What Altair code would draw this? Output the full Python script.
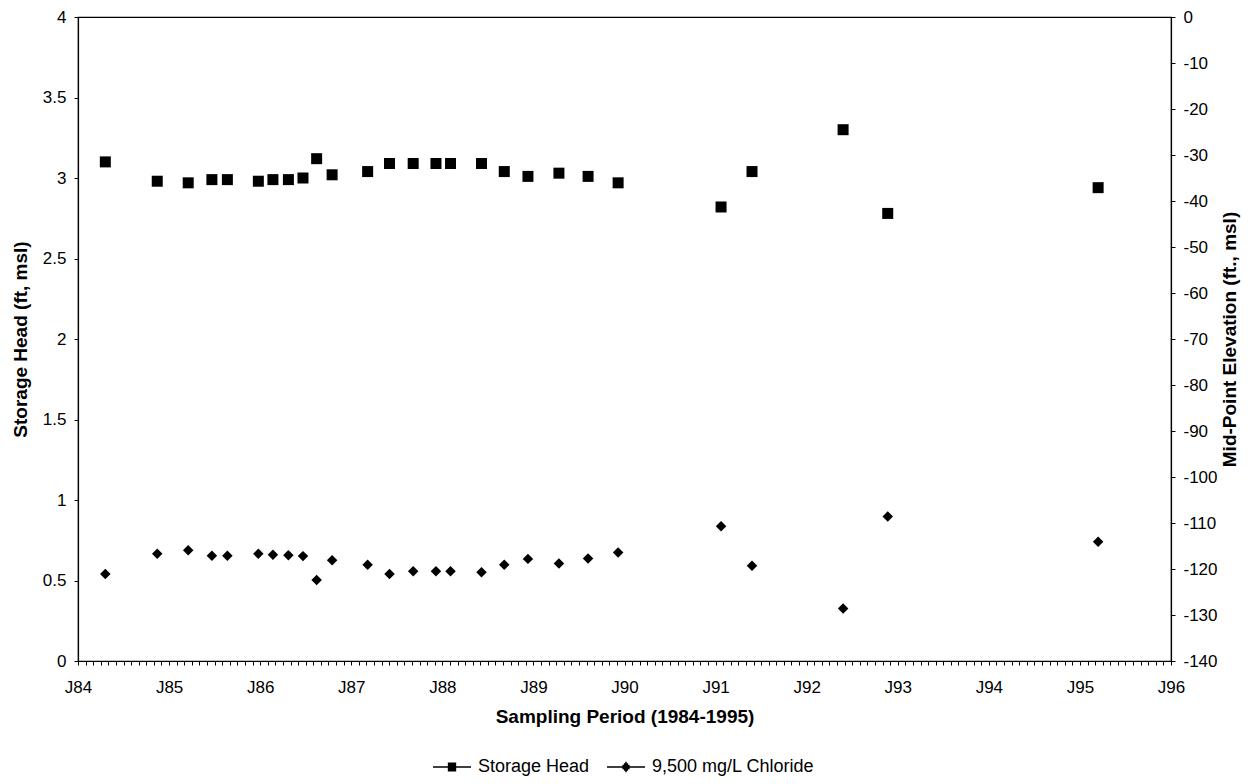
import altair as alt
import pandas as pd

# Sampling dates (decimal years)
years = [1984.30, 1984.87, 1985.21, 1985.47, 1985.64, 1985.98, 1986.14, 1986.31,
         1986.47, 1986.62, 1986.79, 1987.18, 1987.42, 1987.68, 1987.93, 1988.09,
         1988.43, 1988.68, 1988.94, 1989.28, 1989.60, 1989.93, 1991.06, 1991.40,
         1992.40, 1992.89, 1995.20]

# Storage head (ft, msl) - left axis
storage_head = [3.10, 2.98, 2.97, 2.99, 2.99, 2.98, 2.99, 2.99, 3.00, 3.12, 3.02,
                3.04, 3.09, 3.09, 3.09, 3.09, 3.09, 3.04, 3.01, 3.03, 3.01, 2.97,
                2.82, 3.04, 3.30, 2.78, 2.94]

# 9,500 mg/L chloride mid-point elevation (ft., msl) - right axis
chloride_elev = [-121.1, -116.7, -115.9, -117.1, -117.1, -116.7, -116.9, -117.0,
                 -117.2, -122.4, -118.1, -119.1, -121.1, -120.5, -120.5, -120.5,
                 -120.7, -119.1, -117.8, -118.8, -117.7, -116.4, -110.7, -119.3,
                 -128.6, -108.6, -114.1]

series_names = ["Storage Head", "9,500 mg/L Chloride"]
left_ticks = [0, 0.5, 1, 1.5, 2, 2.5, 3, 3.5, 4]
right_ticks = list(range(-140, 1, 10))
month_ticks = [1984 + m / 12 for m in range(0, 145)]

FONT = "Liberation Sans"

head_df = pd.DataFrame({"year": years, "head": storage_head})
chl_df = pd.DataFrame({"year": years, "elev": chloride_elev})
long_df = pd.concat([
    pd.DataFrame({"year": years, "value": storage_head, "series": series_names[0]}),
    pd.DataFrame({"year": years, "value": chloride_elev, "series": series_names[1]}),
])

x_enc = alt.X(
    "year:Q",
    scale=alt.Scale(domain=[1984, 1996], nice=False, zero=False),
    axis=alt.Axis(
        values=month_ticks,
        labelExpr="abs(datum.value - round(datum.value)) < 0.001 ? 'J' + substring(toString(round(datum.value)), 2) : ''",
        tickSize=4, labelPadding=14, labelFontSize=17,
        labelOverlap=False, labelFlush=False, labelBound=False,
        title="Sampling Period (1984-1995)", titleFontSize=19,
        titleFontWeight="bold", titlePadding=12,
    ),
)

heads = alt.Chart(head_df).mark_point(
    shape="square", filled=True, color="black", size=121, opacity=1
).encode(
    x=x_enc,
    y=alt.Y(
        "head:Q",
        scale=alt.Scale(domain=[0, 4], nice=False),
        axis=alt.Axis(
            orient="left", values=left_ticks, labelExpr="toString(datum.value)",
            tickSize=4, labelPadding=8, labelFontSize=17,
            title="Storage Head (ft, msl)", titleFontSize=19,
            titleFontWeight="bold", titlePadding=12,
        ),
    ),
)

chloride = alt.Chart(chl_df).mark_point(
    shape="diamond", filled=True, color="black", size=110, opacity=1
).encode(
    x=x_enc,
    y=alt.Y(
        "elev:Q",
        scale=alt.Scale(domain=[-140, 0], nice=False),
        axis=alt.Axis(
            orient="right", values=right_ticks, labelExpr="toString(datum.value)",
            tickSize=4, labelPadding=8, labelFontSize=17,
            title="Mid-Point Elevation (ft., msl)", titleFontSize=19,
            titleFontWeight="bold", titlePadding=22, titleAngle=270,
        ),
    ),
)

# Legend symbols: a line with a solid marker, drawn entirely with strokes
sq_rows = [-0.2, -0.12, -0.04, 0.04, 0.12, 0.2]
sq_path = "M-1,0H1" + "".join(f"M-0.22,{y}H0.22" for y in sq_rows)
dm_rows = [(-0.24, 0.04), (-0.16, 0.11), (-0.08, 0.19), (0.0, 0.27),
           (0.08, 0.19), (0.16, 0.11), (0.24, 0.04)]
dm_path = "M-1,0H1" + "".join(f"M{-w},{y}H{w}" for y, w in dm_rows)

legend_layer = alt.Chart(long_df).mark_point(
    filled=False, color="black", strokeWidth=1.6, opacity=0
).encode(
    x=x_enc,
    y=alt.Y("value:Q", axis=None),
    shape=alt.Shape(
        "series:N",
        scale=alt.Scale(domain=series_names, range=[sq_path, dm_path]),
        legend=alt.Legend(
            title=None, orient="none", direction="horizontal",
            legendX=354, legendY=730, padding=0,
            symbolSize=1444, symbolStrokeColor="black",
            symbolStrokeWidth=1.6, symbolOpacity=1,
            labelFontSize=18, labelFont=FONT, labelColor="black", labelLimit=0,
            labelOffset=6, columnPadding=13,
        ),
    ),
)

chart = alt.layer(heads, chloride, legend_layer).resolve_scale(
    y="independent"
).properties(
    width=1093, height=644,
    padding={"left": 70, "top": 9, "right": 75, "bottom": 115},
    autosize=alt.AutoSizeParams(type="none"),
    background="white",
).configure_view(
    stroke="black", strokeWidth=1.2
).configure_axis(
    grid=False, domainColor="black", tickColor="black", labelColor="black",
    titleColor="black", labelFont=FONT, titleFont=FONT, domainWidth=1.2,
)

chart.save("out.html", embed_options={"renderer": "svg", "actions": False})
